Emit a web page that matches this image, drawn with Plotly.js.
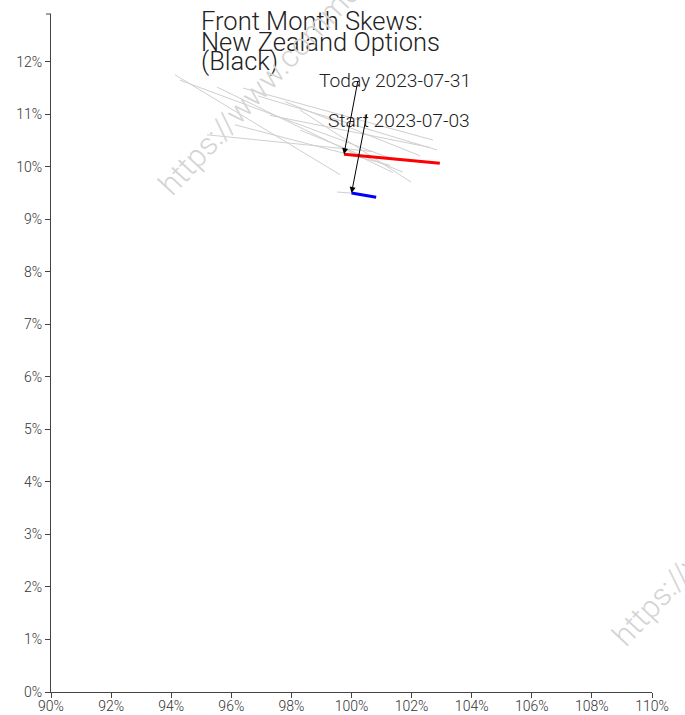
<!DOCTYPE html>
<html>
<head>
<meta charset="utf-8">
<script src="https://cdn.plot.ly/plotly-3.0.1.min.js"></script>
<style>
  html, body { margin: 0; padding: 0; background: #fff; overflow: hidden; }
  #chart { width: 685px; height: 715px; }
</style>
</head>
<body>
<div id="chart"></div>
<script>
// ---- data (moneyness %, implied vol %) ----
const historyMoneyness = [
  [94.13, 99.62],
  [94.29, 101.45],
  [95.52, 101.38],
  [96.39, 102.71],
  [96.89, 102.85],
  [97.79, 102.28],
  [95.19, 100.72],
  [98.29, 101.98],
  [96.12, 101.28],
  [99.52, 99.98],
  [98.29, 101.71],
  [97.29, 102.61]
];
const historyVols = [
  [11.75, 9.85],
  [11.65, 10.13],
  [11.52, 9.89],
  [11.50, 10.51],
  [11.35, 10.32],
  [11.24, 10.21],
  [10.61, 10.29],
  [11.08, 9.71],
  [10.80, 10.03],
  [9.52, 9.50],
  [10.70, 9.90],
  [10.98, 10.37]
];
const todayMoneyness = [99.75, 101.35, 102.94];
const todayVols = [10.24, 10.16, 10.07];
const startMoneyness = [100.0, 100.82];
const startVols = [9.50, 9.42];
const todayLabel = "Today 2023-07-31";
const startLabel = "Start 2023-07-03";
const titleLines = ["Front Month Skews:", "New Zealand Options", "(Black)"];
const xTicks = [90, 92, 94, 96, 98, 100, 102, 104, 106, 108, 110];
const yTicks = [0, 1, 2, 3, 4, 5, 6, 7, 8, 9, 10, 11, 12];
const watermarkText = "https://www.commoditylens.com";

// ---- traces ----
const FONT = "Roboto, 'Open Sans', sans-serif";
const traces = [];
historyMoneyness.forEach((xs, i) => {
  traces.push({
    x: xs, y: historyVols[i], type: "scatter", mode: "lines",
    line: { color: "#cfcfcf", width: 1 }, hoverinfo: "skip", showlegend: false
  });
});
traces.push({
  x: todayMoneyness, y: todayVols, type: "scatter", mode: "lines",
  line: { color: "#ff0000", width: 3 }, showlegend: false
});
traces.push({
  x: startMoneyness, y: startVols, type: "scatter", mode: "lines",
  line: { color: "#0000ff", width: 3 }, showlegend: false
});

const textFont = { family: FONT, size: 19.2, color: "#222", weight: 300 };
const titleFont = { family: FONT, size: 25.5, color: "#222", weight: 300 };
const wmFont = { family: FONT, size: 31, color: "#d4d4d4", weight: 300 };

const annotations = [
  // title lines 2-3
  { xref: "paper", yref: "paper", x: 0.2462, y: 0.958, xanchor: "left", yanchor: "middle",
    text: titleLines[1], showarrow: false, font: titleFont },
  { xref: "paper", yref: "paper", x: 0.2462, y: 0.9307, xanchor: "left", yanchor: "middle",
    text: titleLines[2], showarrow: false, font: titleFont },
  // labels
  { xref: "x", yref: "y", x: 101.45, y: 11.64, text: todayLabel, showarrow: false,
    xanchor: "center", yanchor: "middle", font: textFont },
  { xref: "x", yref: "y", x: 101.57, y: 10.88, text: startLabel, showarrow: false,
    xanchor: "center", yanchor: "middle", font: textFont },
  // arrows
  { xref: "x", yref: "y", x: todayMoneyness[0], y: todayVols[0], text: "",
    showarrow: true, axref: "x", ayref: "y", ax: 100.22, ay: 11.66,
    arrowhead: 2, arrowsize: 1.2, arrowwidth: 1, arrowcolor: "#000", standoff: 0 },
  { xref: "x", yref: "y", x: startMoneyness[0], y: startVols[0], text: "",
    showarrow: true, axref: "x", ayref: "y", ax: 100.52, ay: 11.03,
    arrowhead: 2, arrowsize: 1.2, arrowwidth: 1, arrowcolor: "#000", standoff: 0 },
  // watermarks
  { xref: "paper", yref: "paper", x: 0.446, y: 0.984, xanchor: "center", yanchor: "middle",
    text: watermarkText, showarrow: false, textangle: -47, font: wmFont },
  { xref: "paper", yref: "paper", x: 1.2, y: 0.32, xanchor: "center", yanchor: "middle",
    text: watermarkText, showarrow: false, textangle: -47, font: wmFont }
];

const layout = {
  width: 685, height: 715,
  paper_bgcolor: "#fff", plot_bgcolor: "#fff",
  margin: { l: 51, r: 33, t: 14, b: 23, pad: 0 },
  showlegend: false,
  font: { family: FONT, size: 14, color: "#333", weight: 300 },
  title: {
    text: titleLines[0], font: titleFont,
    x: 201 / 685, xanchor: "left", xref: "container",
    y: 1 - 21 / 715, yanchor: "middle", yref: "container"
  },
  xaxis: {
    range: [90, 110], tickvals: xTicks, ticktext: xTicks.map(v => v + "%"),
    showgrid: false, zeroline: false, showline: true, linecolor: "#444", linewidth: 1,
    ticks: "outside", ticklen: 5, tickcolor: "#444", tickwidth: 1, ticklabelstandoff: -4,
    tickfont: { family: FONT, size: 14, color: "#333", weight: 300 }, fixedrange: true
  },
  yaxis: {
    range: [0, 12.91], tickvals: yTicks, ticktext: yTicks.map(v => v + "%"),
    showgrid: false, zeroline: false, showline: true, linecolor: "#444", linewidth: 1,
    ticks: "outside", ticklen: 5, tickcolor: "#444", tickwidth: 1,
    tickfont: { family: FONT, size: 14, color: "#333", weight: 300 }, fixedrange: true
  },
  shapes: [
    { type: "line", xref: "paper", yref: "paper", x0: -5 / 601, x1: 0, y0: 1, y1: 1,
      line: { color: "#444", width: 1 } }
  ],
  annotations: annotations
};

Plotly.newPlot("chart", traces, layout, { displayModeBar: false, staticPlot: true });
</script>
</body>
</html>
